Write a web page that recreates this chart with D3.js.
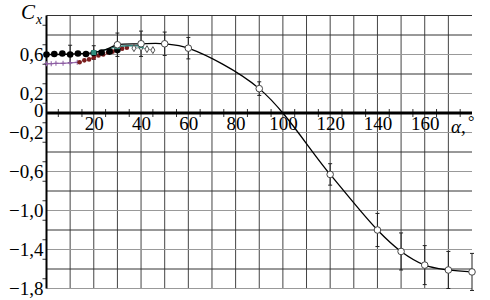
<!DOCTYPE html>
<html>
<head>
<meta charset="utf-8">
<script src="https://cdn.jsdelivr.net/npm/d3@7"></script>
<style>
body { margin: 0; background: #fff; }
text { font-family: "Liberation Serif", "DejaVu Serif", serif; }
</style>
</head>
<body>
<script>
// main curve (open markers + error bars)
var mainAlpha = [0, 10, 20, 25, 30, 40, 50, 60, 90, 120, 140, 150, 160, 170, 180];
var mainCx    = [0.60, 0.605, 0.62, 0.65, 0.70, 0.71, 0.71, 0.665, 0.25, -0.63, -1.20, -1.42, -1.56, -1.61, -1.63];
var mainErr   = [0, 0.09, 0.07, 0, 0.12, 0.13, 0.12, 0.11, 0.07, 0.11, 0.17, 0.19, 0.20, 0.19, 0.19];
var mainOpen  = [false, false, false, false, true, true, true, true, true, true, true, true, true, true, true];

// black filled dots
var blackAlpha = [0, 3.3, 6.7, 10, 13.3, 16.7, 20, 23.3, 26.7, 30];
var blackCx    = [0.60, 0.605, 0.61, 0.60, 0.61, 0.605, 0.615, 0.62, 0.63, 0.645];

// purple crosses
var purpleAlpha = [0, 2, 4, 7, 10, 13];
var purpleCx    = [0.505, 0.505, 0.51, 0.51, 0.515, 0.52];

// dark red dots
var redAlpha = [14, 16, 18, 20, 22, 24, 26, 28, 30, 32, 34];
var redCx    = [0.52, 0.54, 0.55, 0.57, 0.59, 0.60, 0.62, 0.63, 0.65, 0.66, 0.67];

// teal squares
var tealAlpha = [20, 25, 30, 35, 40];
var tealCx    = [0.62, 0.65, 0.68, 0.69, 0.69];

// open diamonds
var diaAlpha = [37, 40, 42.5, 45];
var diaCx    = [0.665, 0.67, 0.655, 0.645];

var xGrid = d3.range(0, 171, 10);
var yGrid = d3.range(-1.8, 1.01, 0.2).map(function(v){ return Math.round(v*10)/10; });
var xLabels = [20, 40, 60, 80, 100, 120, 140, 160];
var yLabels = [0.6, 0.2, 0, -0.2, -0.6, -1.0, -1.4, -1.8];

var W = 490, H = 300;
var svg = d3.select("body").append("svg").attr("width", W).attr("height", H);

var x = d3.scaleLinear().domain([0, 180]).range([46.5, 472]);
var y = d3.scaleLinear().domain([-1.8, 1.0]).range([288.5, 15.5]);

// grid
var g = svg.append("g");
g.selectAll("line.v").data(xGrid.slice(1)).enter().append("line")
	.attr("x1", function(d){ return x(d); }).attr("x2", function(d){ return x(d); })
	.attr("y1", y(1.0)).attr("y2", y(-1.8))
	.attr("stroke", "#444").attr("stroke-width", 1);
g.selectAll("line.h").data(yGrid).enter().append("line")
	.attr("x1", x(0)).attr("x2", x(180))
	.attr("y1", function(d){ return y(d); }).attr("y2", function(d){ return y(d); })
	.attr("stroke", function(d){ return yLabels.indexOf(d) >= 0 ? "#999" : "#333"; })
	.attr("stroke-width", 1);

// minor ticks
g.selectAll("line.xt").data(d3.range(5, 180, 10)).enter().append("line")
	.attr("x1", function(d){ return x(d); }).attr("x2", function(d){ return x(d); })
	.attr("y1", y(0) - 4).attr("y2", y(0) + 4)
	.attr("stroke", "#333").attr("stroke-width", 1);
g.selectAll("line.yt").data(d3.range(-1.7, 1.0, 0.2)).enter().append("line")
	.attr("x1", x(0) - 4).attr("x2", x(0))
	.attr("y1", function(d){ return y(d); }).attr("y2", function(d){ return y(d); })
	.attr("stroke", "#333").attr("stroke-width", 1);

// axes lines
svg.append("line").attr("x1", x(0)).attr("x2", x(180)).attr("y1", y(0)).attr("y2", y(0))
	.attr("stroke", "#000").attr("stroke-width", 3);
svg.append("line").attr("x1", x(0)).attr("x2", x(0)).attr("y1", y(1.0)).attr("y2", y(-1.8))
	.attr("stroke", "#000").attr("stroke-width", 2);

// tick labels through axes
var fmt = function(d){ return d === 0 ? "0" : d3.format(".1f")(d).replace(".", ","); };
var ya = svg.append("g").attr("transform", "translate(" + (x(0) - 3) + ",0)")
	.call(d3.axisLeft(y).tickValues(yLabels).tickSize(0).tickPadding(0).tickFormat(fmt));
ya.select(".domain").remove();
ya.selectAll("text").attr("font-size", 19).attr("fill", "#000")
	.style("font-family", "'Liberation Serif', serif")
	.attr("dy", function(d){ return d === 0 ? "0.18em" : "0.32em"; });

var xa = svg.append("g").attr("transform", "translate(0," + y(0) + ")")
	.call(d3.axisBottom(x).tickValues(xLabels).tickSize(0).tickPadding(4).tickFormat(d3.format("d")));
xa.select(".domain").remove();
xa.selectAll("text").attr("font-size", 19).attr("fill", "#000")
	.style("font-family", "'Liberation Serif', serif");

// axis titles
var ct = svg.append("text").attr("x", 21).attr("y", 19).attr("font-size", 21).attr("font-style", "italic").text("C");
ct.append("tspan").attr("font-size", 14).attr("dy", 5).attr("dx", 1).text("x");
svg.append("text").attr("x", 451).attr("y", 133).attr("font-size", 19).attr("font-style", "italic").text("α,");
svg.append("text").attr("x", 468).attr("y", 127).attr("font-size", 16).text("°");

// main curve
var mainData = mainAlpha.map(function(a, i){ return {a: a, c: mainCx[i], e: mainErr[i], o: mainOpen[i]}; });
var line = d3.line().curve(d3.curveCatmullRom.alpha(0.5))
	.x(function(d){ return x(d.a); }).y(function(d){ return y(d.c); });

// error bars
var eb = svg.append("g").attr("stroke", "#222").attr("stroke-width", 1);
mainData.filter(function(d){ return d.e > 0; }).forEach(function(d){
	eb.append("line").attr("x1", x(d.a)).attr("x2", x(d.a)).attr("y1", y(d.c + d.e)).attr("y2", y(d.c - d.e));
	eb.append("line").attr("x1", x(d.a) - 2).attr("x2", x(d.a) + 2).attr("y1", y(d.c + d.e)).attr("y2", y(d.c + d.e));
	eb.append("line").attr("x1", x(d.a) - 2).attr("x2", x(d.a) + 2).attr("y1", y(d.c - d.e)).attr("y2", y(d.c - d.e));
});

// purple
var purpleData = purpleAlpha.map(function(a, i){ return {a: a, c: purpleCx[i]}; });
svg.append("path").attr("d", d3.line().x(function(d){ return x(d.a); }).y(function(d){ return y(d.c); })(purpleData))
	.attr("fill", "none").attr("stroke", "#9a6fb0").attr("stroke-width", 1.2);
svg.selectAll("path.plus").data(purpleData).enter().append("path")
	.attr("transform", function(d){ return "translate(" + x(d.a) + "," + y(d.c) + ")"; })
	.attr("d", "M-2.5,0H2.5M0,-2.5V2.5").attr("stroke", "#8a5aa0").attr("stroke-width", 1);

// red
var redData = redAlpha.map(function(a, i){ return {a: a, c: redCx[i]}; });
svg.append("path").attr("d", d3.line().x(function(d){ return x(d.a); }).y(function(d){ return y(d.c); })(redData))
	.attr("fill", "none").attr("stroke", "#8b2020").attr("stroke-width", 1).attr("stroke-dasharray", "2,2");
svg.selectAll("circle.red").data(redData).enter().append("circle")
	.attr("cx", function(d){ return x(d.a); }).attr("cy", function(d){ return y(d.c); })
	.attr("r", 2.3).attr("fill", "#7a1c1c");

// teal
var tealData = tealAlpha.map(function(a, i){ return {a: a, c: tealCx[i]}; });
svg.append("path").attr("d", d3.line().curve(d3.curveMonotoneX).x(function(d){ return x(d.a); }).y(function(d){ return y(d.c); })(tealData))
	.attr("fill", "none").attr("stroke", "#2f7f78").attr("stroke-width", 1.3);

// diamonds
var diaData = diaAlpha.map(function(a, i){ return {a: a, c: diaCx[i]}; });
svg.append("path").attr("d", d3.line().x(function(d){ return x(d.a); }).y(function(d){ return y(d.c); })(diaData))
	.attr("fill", "none").attr("stroke", "#999").attr("stroke-width", 1);
svg.selectAll("path.dia").data(diaData).enter().append("path")
	.attr("transform", function(d){ return "translate(" + x(d.a) + "," + y(d.c) + ")"; })
	.attr("d", d3.symbol().type(d3.symbolDiamond).size(14))
	.attr("fill", "#fff").attr("stroke", "#555").attr("stroke-width", 1);

// main line
svg.append("path").attr("d", line(mainData))
	.attr("fill", "none").attr("stroke", "#000").attr("stroke-width", 1.3);

// black dots
var blackData = blackAlpha.map(function(a, i){ return {a: a, c: blackCx[i]}; });
svg.selectAll("circle.blk").data(blackData).enter().append("circle")
	.attr("cx", function(d){ return x(d.a); }).attr("cy", function(d){ return y(d.c); })
	.attr("r", 3.3).attr("fill", "#000");

// teal markers
svg.selectAll("rect.teal").data(tealData.filter(function(d, i){ return i % 2 === 0; })).enter().append("rect")
	.attr("x", function(d){ return x(d.a) - 2.5; }).attr("y", function(d){ return y(d.c) - 2.5; })
	.attr("width", 5).attr("height", 5).attr("fill", "#2f8f7f");

// open markers
svg.selectAll("circle.open").data(mainData.filter(function(d){ return d.o; })).enter().append("circle")
	.attr("cx", function(d){ return x(d.a); }).attr("cy", function(d){ return y(d.c); })
	.attr("r", 3.3).attr("fill", "#fff").attr("stroke", "#444").attr("stroke-width", 1);
</script>
</body>
</html>
